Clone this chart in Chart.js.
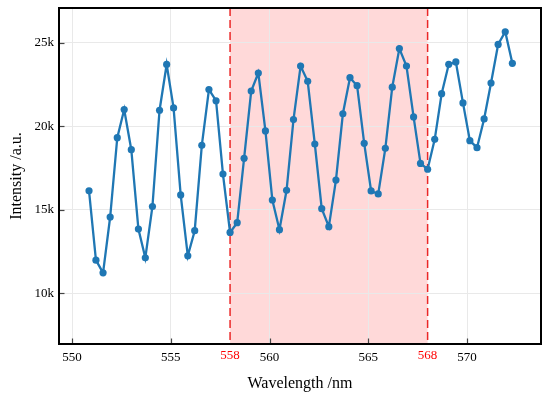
<!DOCTYPE html>
<html><head><meta charset="utf-8">
<script src="https://cdn.jsdelivr.net/npm/chart.js@4/dist/chart.umd.min.js"></script>
<style>html,body{margin:0;padding:0;background:#fff}#wrap{width:550px;height:397px}</style>
</head><body><div id="wrap"><canvas id="c" width="550" height="397"></canvas></div>
<script>
const wavelength = [550.86,551.21,551.57,551.93,552.29,552.64,553.00,553.36,553.71,554.07,
  554.43,554.79,555.14,555.50,555.86,556.21,556.57,556.93,557.29,557.64,
  558.00,558.36,558.71,559.07,559.43,559.79,560.14,560.50,560.86,561.21,
  561.57,561.93,562.29,562.64,563.00,563.36,563.71,564.07,564.43,564.79,
  565.14,565.50,565.86,566.21,566.57,566.93,567.29,567.64,568.00,568.36,
  568.71,569.07,569.43,569.79,570.14,570.50,570.86,571.21,571.57,571.93,572.29];
const intensity = [16140,11990,11230,14570,19320,21000,18600,13850,12130,15200,
  20960,23700,21100,15890,12250,13750,18860,22200,21530,17140,
  13650,14230,18080,22110,23190,19720,15590,13810,16170,20400,
  23610,22690,18940,15070,13990,16780,20750,22910,22430,18980,
  16130,15950,18680,22340,24650,23610,20560,17780,17430,19220,
  21950,23710,23850,21400,19140,18720,20440,22590,24900,25660,23770];
const xTickValues = [550,555,560,565,570];
const regionBounds = [558,568];
const yTickValues = [10000,15000,20000,25000];
const xRange = [549.34,573.74];
const yRange = [6970,27080];

const FONT = "'Liberation Serif','Times New Roman',serif";

const overlay = {
  id:'overlay',
  beforeDraw(chart){
    const {ctx, chartArea:a, scales:{x}} = chart;
    const x0 = x.getPixelForValue(regionBounds[0]), x1 = x.getPixelForValue(regionBounds[1]);
    ctx.save();
    ctx.fillStyle='rgba(255,0,0,0.15)';
    ctx.fillRect(x0,a.top,x1-x0,a.bottom-a.top);
    ctx.restore();
  },
  beforeDatasetsDraw(chart){
    const {ctx, chartArea:a, scales:{x}} = chart;
    ctx.save();
    ctx.strokeStyle='rgb(235,40,40)';
    ctx.lineWidth=1.5;
    ctx.setLineDash([8,4]);
    regionBounds.forEach(v=>{
      const px=x.getPixelForValue(v);
      ctx.beginPath(); ctx.moveTo(px,a.top); ctx.lineTo(px,a.bottom); ctx.stroke();
    });
    ctx.restore();
  },
  afterDraw(chart){
    const {ctx, chartArea:a, scales:{x,y}} = chart;
    ctx.save();
    ctx.strokeStyle='#444'; ctx.lineWidth=1.2;
    xTickValues.forEach(v=>{
      const px=Math.round(x.getPixelForValue(v))+0.5;
      ctx.beginPath(); ctx.moveTo(px,a.bottom); ctx.lineTo(px,a.bottom-5.5); ctx.stroke();
    });
    yTickValues.forEach(v=>{
      const py=Math.round(y.getPixelForValue(v))+0.5;
      ctx.beginPath(); ctx.moveTo(a.left,py); ctx.lineTo(a.left+5.5,py); ctx.stroke();
    });
    ctx.strokeStyle='#000'; ctx.lineWidth=2;
    ctx.strokeRect(a.left,a.top,a.right-a.left,a.bottom-a.top);
    // red boundary labels, sitting slightly higher than the regular tick labels
    ctx.fillStyle='#ff0000';
    ctx.font='13px '+FONT;
    ctx.textAlign='center'; ctx.textBaseline='alphabetic';
    regionBounds.forEach(v=>{
      ctx.fillText(String(v), x.getPixelForValue(v), a.bottom+14.5);
    });
    ctx.restore();
  }
};

new Chart(document.getElementById('c'), {
  type:'line',
  data:{datasets:[{
    data: wavelength.map((w,i)=>({x:w,y:intensity[i]})),
    borderColor:'#1f77b4', backgroundColor:'#1f77b4',
    borderWidth:2.3, pointRadius:3.6, pointHoverRadius:3.6,
    pointBorderWidth:0, tension:0, fill:false
  }]},
  options:{
    responsive:false, animation:false, devicePixelRatio:1,
    layout:{padding:{left:0,top:8,right:9,bottom:0}},
    plugins:{legend:{display:false},tooltip:{enabled:false}},
    scales:{
      x:{
        type:'linear', min:xRange[0], max:xRange[1],
        afterBuildTicks:s=>{s.ticks=xTickValues.map(v=>({value:v}));},
        afterFit:s=>{s.height=53; s.paddingLeft=0; s.paddingRight=0;},
        border:{display:false},
        grid:{drawTicks:false, lineWidth:1, color:'#e9e9e9'},
        ticks:{padding:6, autoSkip:false, maxRotation:0,
          font:{family:FONT,size:13}, color:'#000',
          callback:v=>String(v)},
        title:{display:true,text:'Wavelength /nm',color:'#000',
          font:{family:FONT,size:16},padding:{top:0,bottom:4}}
      },
      y:{
        type:'linear', min:yRange[0], max:yRange[1],
        afterBuildTicks:s=>{s.ticks=yTickValues.map(v=>({value:v}));},
        afterFit:s=>{s.width=59; s.paddingTop=0; s.paddingBottom=0;},
        border:{display:false},
        grid:{drawTicks:false, color:'#e9e9e9', lineWidth:1},
        ticks:{padding:5, font:{family:FONT,size:13}, color:'#000',
          callback:v=>(v/1000)+'k'},
        title:{display:true,text:'Intensity /a.u.',color:'#000',
          font:{family:FONT,size:16},padding:{top:7,bottom:0}}
      }
    }
  },
  plugins:[overlay]
});
</script></body></html>
